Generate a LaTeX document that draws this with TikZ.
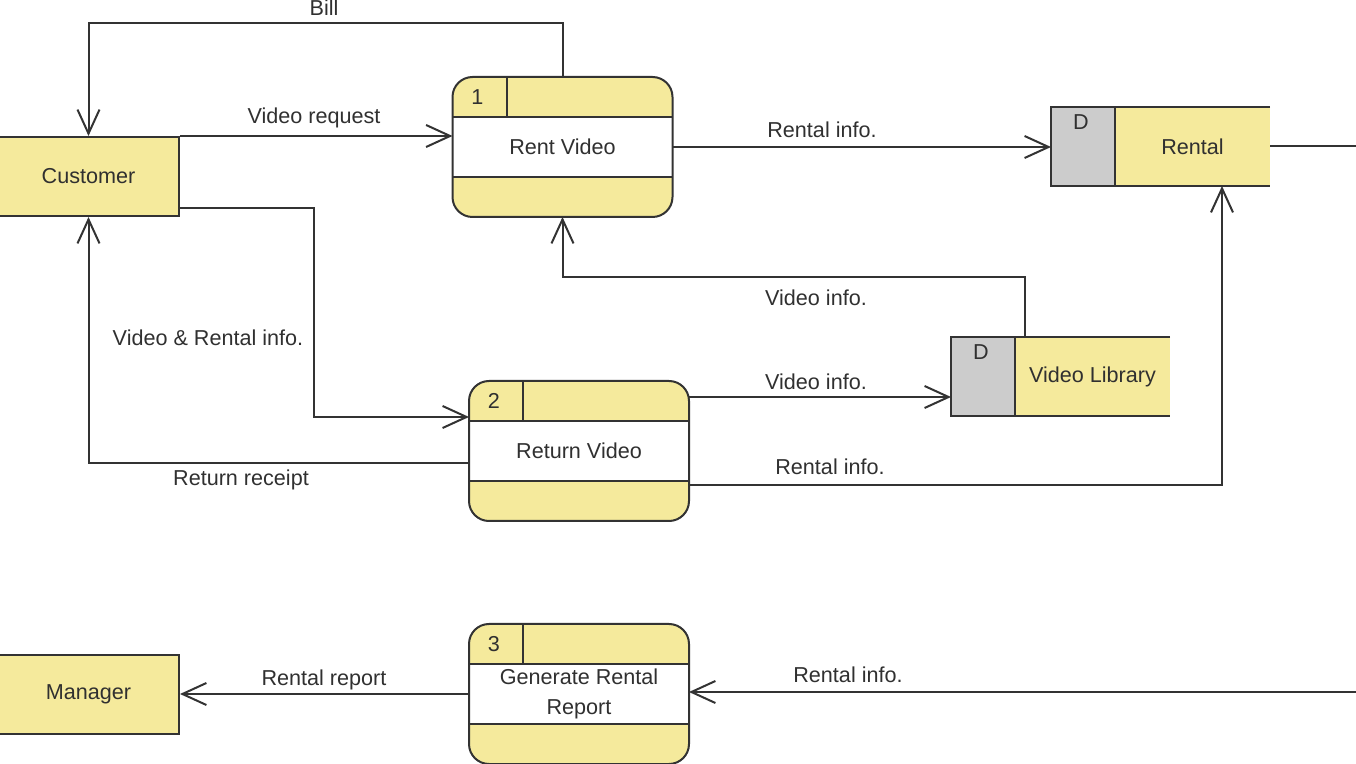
\documentclass[tikz,border=0pt]{standalone}
\usepackage{fontspec}
\setmainfont{Liberation Sans}
\usetikzlibrary{arrows.meta,calc}
\definecolor{yel}{HTML}{F5EA9C}
\definecolor{gry}{HTML}{CCCCCC}
\definecolor{bord}{HTML}{333333}
\definecolor{txt}{HTML}{303030}
\tikzset{
  every node/.style={font=\fontsize{10.8}{15}\selectfont, text=txt},
  proc/.style={fill=yel, rounded corners=10pt, outer sep=0pt,
    minimum width=110pt, minimum height=70pt, inner sep=0pt},
  ent/.style={draw=bord, fill=yel, line width=1pt,
    minimum width=90.5pt, minimum height=39.5pt, inner sep=0pt},
  storearea/.style={minimum width=109.5pt, minimum height=39.5pt, inner sep=0pt, outer sep=0pt},
  flow/.style={draw=bord, line width=1pt, -{Straight Barb[length=12pt,width=11pt,line width=1pt]}},
  plain/.style={draw=bord, line width=1pt},
  lbl/.style={inner sep=1pt},
}
\newcommand{\procparts}[3]{%
  % #1 node name, #2 number, #3 text
  \fill[white] ($(#1.north west)+(0,40)$) rectangle ($(#1.north east)+(0,100)$);
  \draw[plain, rounded corners=10pt] (#1.north west) rectangle (#1.south east);
  \draw[plain] ($(#1.north west)+(0,40)$) -- ($(#1.north east)+(0,40)$);
  \draw[plain] ($(#1.north west)+(0,100)$) -- ($(#1.north east)+(0,100)$);
  \draw[plain] ($(#1.north west)+(54,0)$) -- ($(#1.north west)+(54,40)$);
  \node[lbl] at ($(#1.north west)+(25,20)$) {#2};
  \node[lbl, align=center] at ($(#1.north)+(0,70)$) {#3};
}
\newcommand{\storeparts}[2]{%
  \fill[gry] (#1.north west) rectangle ($(#1.south west)+(64,0)$);
  \fill[yel] ($(#1.north west)+(64,0)$) rectangle (#1.south east);
  \draw[plain] (#1.north east) -- (#1.north west) -- (#1.south west) -- (#1.south east);
  \draw[plain] ($(#1.north west)+(64,0)$) -- ($(#1.south west)+(64,0)$);
  \node[lbl] at ($(#1.north west)+(30,15)$) {D};
  \node[lbl] at ($(#1.center)+(32,0)$) {#2};
}
\begin{document}
\begin{tikzpicture}[x=0.5pt,y=-0.5pt]
\useasboundingbox (0,0) rectangle (1356,764);
% entities
\node[ent] (cust) at (88.5,176.5) {Customer};
\node[ent] (mgr) at (88.5,694.5) {Manager};
% processes
\node[proc] (p1) at (562.5,147) {};
\procparts{p1}{1}{Rent Video}
\node[proc] (p2) at (579,451) {};
\procparts{p2}{2}{Return Video}
\node[proc] (p3) at (579,694) {};
\procparts{p3}{3}{Generate Rental\\Report}
% data stores
\node[storearea] (rental) at (1160.5,146.5) {};
\storeparts{rental}{Rental}
\node[storearea] (vlib) at (1060.5,376.5) {};
\storeparts{vlib}{Video Library}
\coordinate (redge) at (1362,692);
% flows
\draw[flow] (p1.north) -- ++(0,-54) -| (cust.north);
\node[lbl] at (324,8) {Bill};
\draw[flow] (cust.north east) -- (cust.north east -| p1.west);
\node[lbl] at (314,118) {Video request};
\draw[flow] (p1.east) -- (p1.east -| rental.west);
\node[lbl] at (822,130) {Rental info.};
\draw[plain] (rental.east) -- ++(100,0);
\draw[flow] ($(vlib.north west)+(74,0)$) -- ++(0,-60) -| (p1.south);
\node[lbl] at (816,298) {Video info.};
\draw[flow] ($(cust.south east)+(0,-9)$) -- ++(134,0) |- ($(p2.north west)+(0,36)$);
\node[lbl] at (208,338) {Video \& Rental info.};
\draw[flow] ($(p2.west)+(0,12)$) -| (cust.south);
\node[lbl] at (241,480) {Return receipt};
\draw[flow] ($(p2.north east)+(0,16)$) -- ($(p2.north east)+(262,16)$);
\node[lbl] at (816,382) {Video info.};
\draw[flow] ($(p2.south east)+(0,-36)$) -| ($(rental.south west)+(171,0)$);
\node[lbl] at (830,467) {Rental info.};
\draw[flow] (redge) -- (redge -| p3.east);
\node[lbl] at (848,675) {Rental info.};
\draw[flow] (p3.west) -- (p3.west -| mgr.east);
\node[lbl] at (324,680) {Rental report};
\end{tikzpicture}
\end{document}
